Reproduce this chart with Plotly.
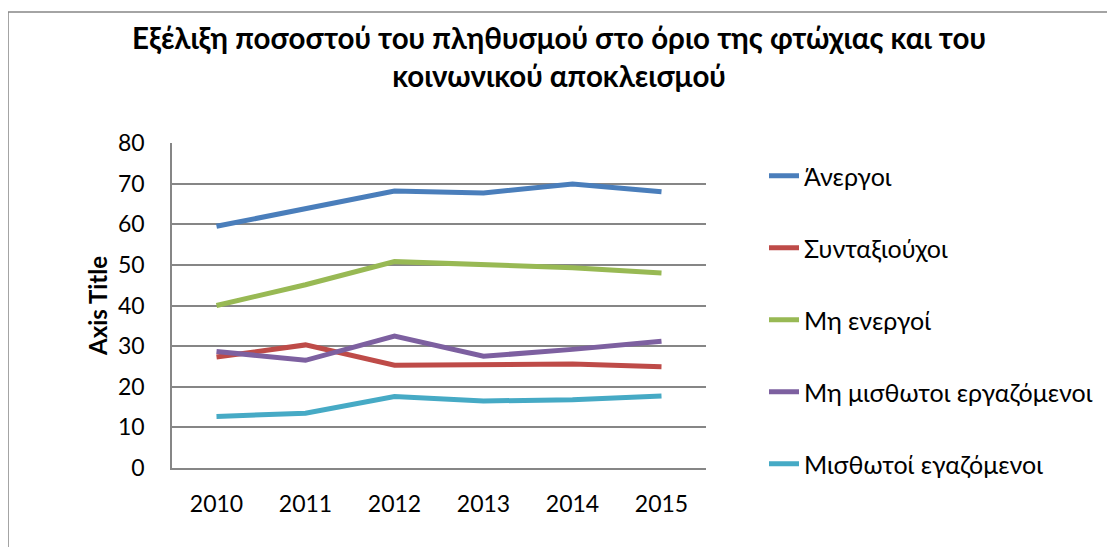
import plotly.graph_objects as go

years = ["2010", "2011", "2012", "2013", "2014", "2015"]
anergoi = [59.5, 64.0, 68.2, 67.7, 69.9, 68.0]
syntaxiouxoi = [27.3, 30.3, 25.3, 25.4, 25.6, 24.9]
mi_energoi = [40.0, 45.1, 50.8, 50.2, 49.3, 48.0]
mi_misthotoi = [28.7, 26.5, 32.5, 27.5, 29.2, 31.2]
misthotoi = [12.7, 13.5, 17.6, 16.5, 16.8, 17.7]

series = [
    ("Άνεργοι", anergoi, "#4A7EBB"),
    ("Συνταξιούχοι", syntaxiouxoi, "#BE4B48"),
    ("Μη ενεργοί", mi_energoi, "#98B954"),
    ("Μη μισθωτοι εργαζόμενοι", mi_misthotoi, "#7D60A0"),
    ("Μισθωτοί εγαζόμενοι", misthotoi, "#46AAC5"),
]

OFF = 8  # browser body margin
W, H = 1115 - OFF, 547 - OFF
L, R, T, B = 172 - OFF, 706 - OFF, 143 - OFF, 468 - OFF

fig = go.Figure()
for i, (name, vals, col) in enumerate(series):
    fig.add_trace(go.Scatter(
        x=years, y=vals, name=name, mode="lines",
        line=dict(color=col, width=5),
        legendgroup=f"g{i}",
    ))

font_family = "Lato, Open Sans, DejaVu Sans"
fig.update_layout(
    width=W, height=H,
    margin=dict(l=L, r=W - R, t=T, b=H - B, autoexpand=False),
    paper_bgcolor="white", plot_bgcolor="white",
    font=dict(family=font_family, color="black", size=23),
    title=dict(
        text="<b>Εξέλιξη ποσοστού του πληθυσμού στο όριο της φτώχιας και του<br>κοινωνικού αποκλεισμού</b>",
        x=(559 - OFF) / W, xanchor="center", y=1 - (49 - OFF) / H, yanchor="middle",
        font=dict(size=29.5, family=font_family),
    ),
    xaxis=dict(
        type="category", range=[-0.5, 5.5], showgrid=False, showline=True,
        linecolor="#868686", linewidth=1.5,
        ticks="", tickfont=dict(size=23), ticklabelstandoff=15,
    ),
    yaxis=dict(
        range=[0, 80], dtick=10, showgrid=True, gridcolor="#868686", gridwidth=1.5,
        showline=True, linecolor="#868686", linewidth=1.5, ticks="",
        zeroline=False, tickfont=dict(size=23), ticklabelstandoff=21,
        title=dict(text="<b>Axis Title</b>", font=dict(size=24), standoff=4),
    ),
    legend=dict(
        x=(764 - 172) / (706 - 172), xanchor="left",
        y=(468 - 153) / (468 - 143), yanchor="top",
        font=dict(size=25), tracegroupgap=36.5, bgcolor="rgba(0,0,0,0)",
        maxheight=H,
    ),
    showlegend=True,
)

# chart area border
fig.add_shape(type="rect", xref="paper", yref="paper",
              x0=(8 - 172) / (706 - 172), x1=(1130 - 172) / (706 - 172),
              y0=(468 - 570) / (468 - 143), y1=(468 - 12) / (468 - 143),
              line=dict(color="#868686", width=1.5), fillcolor="rgba(0,0,0,0)", layer="below")

fig.write_html("out.html")
